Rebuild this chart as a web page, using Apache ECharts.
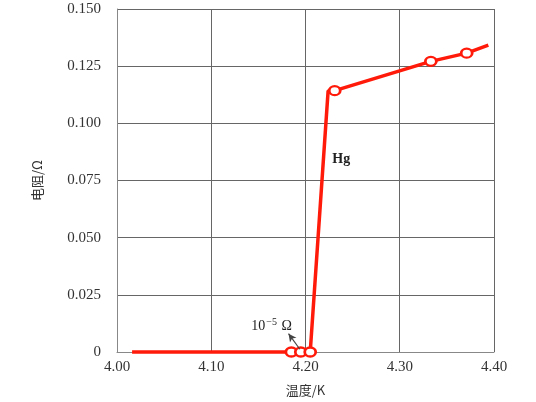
<!DOCTYPE html>
<html>
<head>
<meta charset="utf-8">
<script src="https://cdn.jsdelivr.net/npm/echarts@6/dist/echarts.min.js"></script>
<style>html,body{margin:0;padding:0;background:#fff}#c{width:536px;height:402px}</style>
</head>
<body>
<div id="c"></div>
<script>
// Temperature (K) and resistance (Ω)
const temps = [4.016, 4.185, 4.195, 4.205, 4.224, 4.231, 4.333, 4.371, 4.394];
const resist = [0, 0, 0, 0, 0.1142, 0.1143, 0.1271, 0.1307, 0.1342];
const hasMarker = [false, true, true, true, false, true, true, true, false];
const xTicks = [4.00, 4.10, 4.20, 4.30, 4.40];
const yTicks = [0, 0.025, 0.05, 0.075, 0.1, 0.125, 0.15];
const arrowTail = [4.194, 0.0012];
const arrowHead = [4.182, 0.0080];
const noteLabelPos = [4.164, 0.0112];
const hgLabelPos = [4.238, 0.0842];

const serif = '"Liberation Serif", "Times New Roman", serif';
const chart = echarts.init(document.getElementById('c'));
const data = temps.map((t, i) => ({
  value: [t, resist[i]],
  symbol: hasMarker[i] ? 'circle' : 'none'
}));
chart.setOption({
  animation: false,
  grid: { left: 117, right: 42, top: 9, bottom: 41, show: false },
  xAxis: {
    type: 'value', min: xTicks[0], max: xTicks[xTicks.length - 1], interval: 0.1,
    name: '温度/K', nameLocation: 'middle', nameGap: 32,
    nameTextStyle: { fontFamily: '"Noto Sans CJK SC", serif', fontSize: 13, color: '#333' },
    axisLine: { show: true, lineStyle: { color: '#888', width: 1 } },
    axisTick: { show: false },
    axisLabel: { formatter: v => v.toFixed(2), fontFamily: serif, fontSize: 15, color: '#333', margin: 8 },
    splitLine: { show: true, lineStyle: { color: '#666', width: 1 } }
  },
  yAxis: {
    type: 'value', min: yTicks[0], max: yTicks[yTicks.length - 1], interval: 0.025,
    name: '电阻/Ω', nameLocation: 'middle', nameGap: 73,
    nameTextStyle: { fontFamily: '"Noto Sans CJK SC", serif', fontSize: 13, color: '#333' },
    axisLine: { show: true, lineStyle: { color: '#888', width: 1 } },
    axisTick: { show: false },
    axisLabel: { formatter: v => v === 0 ? '0' : v.toFixed(3), fontFamily: serif, fontSize: 15, color: '#333', margin: 16 },
    splitLine: { show: true, lineStyle: { color: '#666', width: 1 } }
  },
  series: [{
    type: 'line',
    data: data,
    showSymbol: true,
    symbolSize: [11, 9],
    clip: false,
    lineStyle: { color: '#ff1a0a', width: 3.5 },
    itemStyle: { color: '#fff', borderColor: '#ff1a0a', borderWidth: 2.5 },
    z: 3,
    markLine: {
      silent: true,
      symbol: ['none', 'arrow'],
      symbolSize: [6, 8],
      lineStyle: { color: '#444', width: 1.2, type: 'solid' },
      label: { show: false },
      data: [[{ coord: arrowTail }, { coord: arrowHead }]]
    },
    markPoint: {
      silent: true,
      symbol: 'circle', symbolSize: 0,
      data: [
        { coord: noteLabelPos, label: { show: true, position: 'inside',
          formatter: '{a|10}{s|−5}{a| Ω}',
          rich: {
            a: { fontFamily: serif, fontSize: 14, color: '#222' },
            s: { fontFamily: serif, fontSize: 10, color: '#222', verticalAlign: 'top', padding: [0, 1, 8, 1] }
          } } },
        { coord: hgLabelPos, label: { show: true, position: 'inside', formatter: 'Hg',
          fontFamily: serif, fontSize: 14, fontWeight: 'bold', color: '#222' } }
      ]
    }
  }]
});
</script>
</body>
</html>
